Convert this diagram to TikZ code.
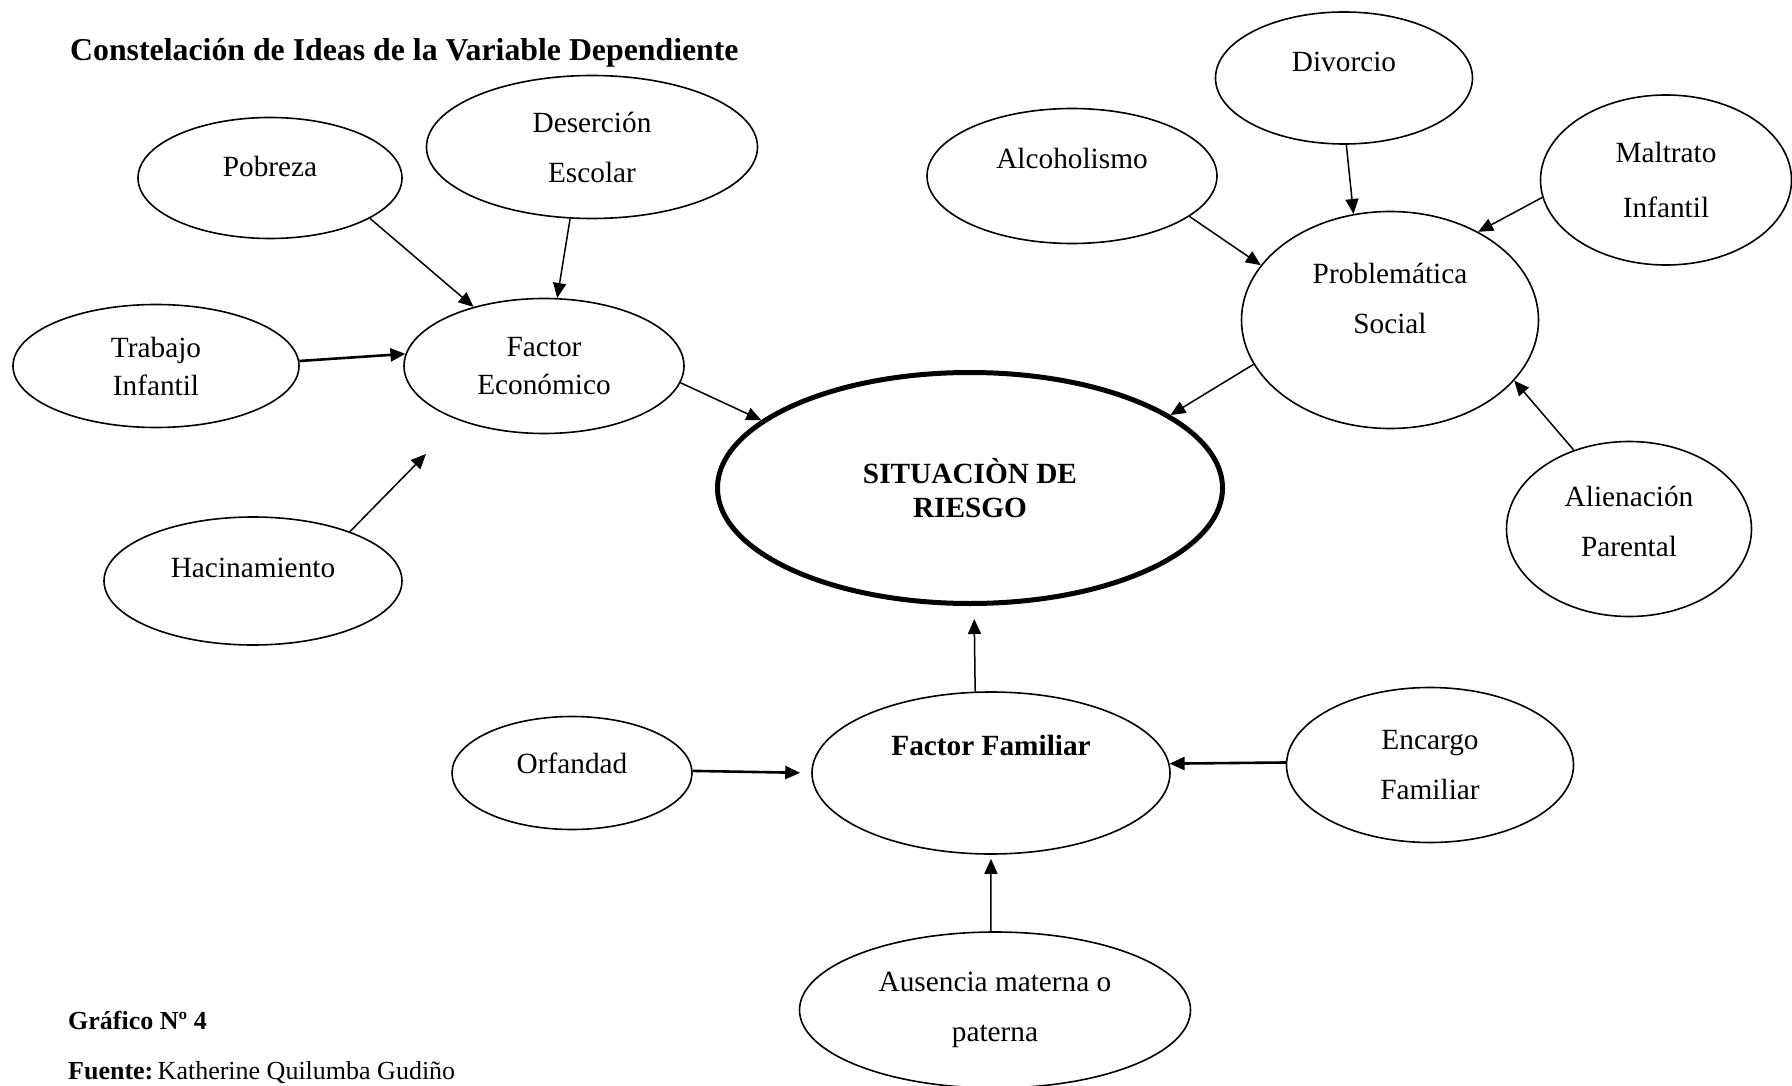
\documentclass[tikz,border=0pt]{standalone}
\usepackage{fontspec}
\setmainfont{Liberation Serif}
\usetikzlibrary{arrows.meta, shapes.geometric, positioning}

\tikzset{
  bubble/.style={ellipse, draw, line width=1.6pt, inner sep=0pt, align=center,
    font=\fontsize{29.3}{50}\selectfont},
  tight/.style={font=\fontsize{29.3}{38}\selectfont},
  dims/.style 2 args={minimum width=#1pt, minimum height=#2pt},
  lift/.style={text depth=#1pt},
  arr/.style={line width=1.5pt, -{Triangle[length=15pt,width=13pt]}},
  thickarr/.style={arr, line width=2.6pt},
  caption/.style={anchor=west, inner sep=0pt, font=\fontsize{26}{30}\selectfont},
}

\begin{document}
\begin{tikzpicture}[x=1pt, y=-1pt]
\useasboundingbox (0,0) rectangle (1792,1086);

\node[anchor=west, inner sep=0pt, font=\fontsize{31.8}{36}\selectfont\bfseries] (title) at (70,53) {Constelación de Ideas de la Variable Dependiente};

\node[bubble, dims={264}{121}, lift=24] (pobreza) at (270,178) {Pobreza};
\node[bubble, dims={331}{143}] (desercion) at (592,147) {Deserción\\Escolar};
\node[bubble, tight, dims={286}{123}] (trabajo) at (156,366) {Trabajo\\Infantil};
\node[bubble, tight, dims={280}{135}] (economico) at (544,366) {Factor\\Económico};
\node[bubble, dims={298}{128}, lift=26] (hacinamiento) at (253,581) {Hacinamiento};

\node[bubble, line width=5pt, font=\fontsize{29.3}{34}\selectfont\bfseries, dims={505}{231}] (riesgo) at (970,488) {SITUACIÒN DE\\RIESGO};

\node[bubble, dims={290}{135}, lift=36] (alcoholismo) at (1072,176) {Alcoholismo};
\node[bubble, dims={257}{132}, lift=32] (divorcio) at (1344,78) {Divorcio};
\node[bubble, font=\fontsize{29.3}{55}\selectfont, dims={251}{170}] (maltrato) at (1666,180) {Maltrato\\Infantil};
\node[bubble, dims={297}{217}, lift=44] (social) at (1390,320) {Problemática\\Social};
\node[bubble, dims={245}{175}, lift=16] (alienacion) at (1629,529) {Alienación\\Parental};

\node[bubble, font=\fontsize{29.3}{50}\selectfont\bfseries, dims={358}{162}, lift=56] (familiar) at (991,773) {Factor Familiar};
\node[bubble, dims={240}{113}, lift=20] (orfandad) at (572,773) {Orfandad};
\node[bubble, dims={287}{155}] (encargo) at (1430,765) {Encargo\\Familiar};
\node[bubble, dims={391}{156}] (ausencia) at (995,1010) {Ausencia materna o\\paterna};

\node[caption, font=\fontsize{26}{30}\selectfont\bfseries] (grafico) at (68,1020) {Gráfico Nº 4};
\node[caption] (fuente) at (68,1073) {\textbf{Fuente:}\,Katherine Quilumba Gudiño};

\coordinate (hacEnd) at (426,454);

\draw[arr] (pobreza.-22) -- (economico.140);
\draw[arr] (desercion.-107) -- (economico.79);
\draw[thickarr] (trabajo.2) -- (economico.175);
\draw[arr] (hacinamiento.27) -- (hacEnd);
\draw[arr] (economico.-7) -- (riesgo.162);

\draw[arr] (divorcio.-88) -- (social.109);
\draw[arr] (alcoholismo.-19) -- (social.157);
\draw[arr] (maltrato.-172) -- (social.45);
\draw[arr] (alienacion.125) -- (social.-26);
\draw[arr] (social.-162) -- (riesgo.20);

\draw[arr, shorten >=13pt] (familiar.101) -- (riesgo.-88);
\draw[arr, shorten >=4pt] (ausencia.93) -- (familiar.-90);
\draw[thickarr, shorten >=11pt] (orfandad.1) -- (familiar.180);
\draw[thickarr] (encargo.179) -- (familiar.3);

\end{tikzpicture}
\end{document}
